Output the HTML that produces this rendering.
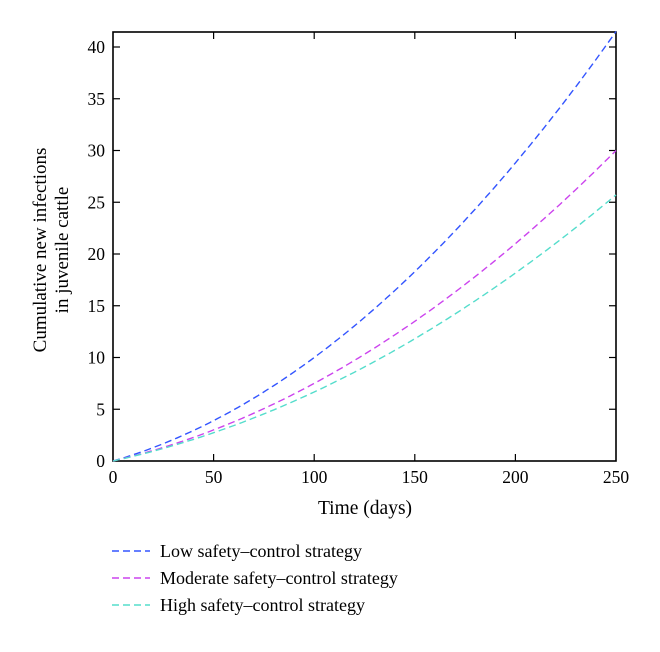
<!DOCTYPE html>
<html><head><style>body{margin:0;background:#fff}</style></head><body>
<svg width="660" height="647" viewBox="0 0 660 647" xmlns="http://www.w3.org/2000/svg" font-family="Liberation Serif, serif" font-size="17.5" fill="#000">
<rect x="113" y="32" width="503" height="429" fill="none" stroke="#000" stroke-width="1.6"/>
<g stroke="#000" stroke-width="1.2">
<line x1="213.6" y1="461" x2="213.6" y2="454"/><line x1="314.2" y1="461" x2="314.2" y2="454"/><line x1="414.8" y1="461" x2="414.8" y2="454"/><line x1="515.4" y1="461" x2="515.4" y2="454"/>
<line x1="213.6" y1="32" x2="213.6" y2="39"/><line x1="314.2" y1="32" x2="314.2" y2="39"/><line x1="414.8" y1="32" x2="414.8" y2="39"/><line x1="515.4" y1="32" x2="515.4" y2="39"/>
</g>
<g id="yt" stroke="#000" stroke-width="1.2"></g>
<g text-anchor="middle">
<text x="113" y="483">0</text><text x="213.6" y="483">50</text><text x="314.2" y="483">100</text><text x="414.8" y="483">150</text><text x="515.4" y="483">200</text><text x="616" y="483">250</text>
<text x="365" y="514" font-size="19.5">Time (days)</text>
</g>
<g text-anchor="end" id="yl"></g>
<text transform="translate(46,250) rotate(-90)" text-anchor="middle" font-size="19">Cumulative new infections</text>
<text transform="translate(68,250) rotate(-90)" text-anchor="middle" font-size="19">in juvenile cattle</text>
<path id="c1" fill="none" stroke="#3355ff" stroke-width="1.4" stroke-dasharray="7,4"/>
<path id="c2" fill="none" stroke="#cc44ee" stroke-width="1.4" stroke-dasharray="7,4"/>
<path id="c3" fill="none" stroke="#55ddcc" stroke-width="1.4" stroke-dasharray="7,4"/>
<line x1="112" y1="551" x2="150" y2="551" stroke="#3355ff" stroke-width="1.4" stroke-dasharray="7,4"/>
<line x1="112" y1="578" x2="150" y2="578" stroke="#cc44ee" stroke-width="1.4" stroke-dasharray="7,4"/>
<line x1="112" y1="605" x2="150" y2="605" stroke="#55ddcc" stroke-width="1.4" stroke-dasharray="7,4"/>
<text x="160" y="557" font-size="18">Low safety–control strategy</text>
<text x="160" y="584" font-size="18">Moderate safety–control strategy</text>
<text x="160" y="611" font-size="18">High safety–control strategy</text>
</svg>
<script>
var yt=document.getElementById('yt'),yl=document.getElementById('yl'),ns='http://www.w3.org/2000/svg';
for(var v=0;v<=40;v+=5){var y=461-v*10.35;
if(v>0){[[113,120],[616,609]].forEach(function(p){var l=document.createElementNS(ns,'line');l.setAttribute('x1',p[0]);l.setAttribute('x2',p[1]);l.setAttribute('y1',y);l.setAttribute('y2',y);yt.appendChild(l);});}
var t=document.createElementNS(ns,'text');t.setAttribute('x',105);t.setAttribute('y',y+6);t.textContent=v;yl.appendChild(t);}
[['c1',0.056,0.00044],['c2',0.045,0.0003],['c3',0.0426,0.000241]].forEach(function(c){var d='';for(var t=0;t<=250;t+=2){var x=113+t*503/250,y=461-(c[1]*t+c[2]*t*t)*10.35;d+=(t?'L':'M')+x.toFixed(1)+' '+y.toFixed(1);}document.getElementById(c[0]).setAttribute('d',d);});
</script>
</body></html>
